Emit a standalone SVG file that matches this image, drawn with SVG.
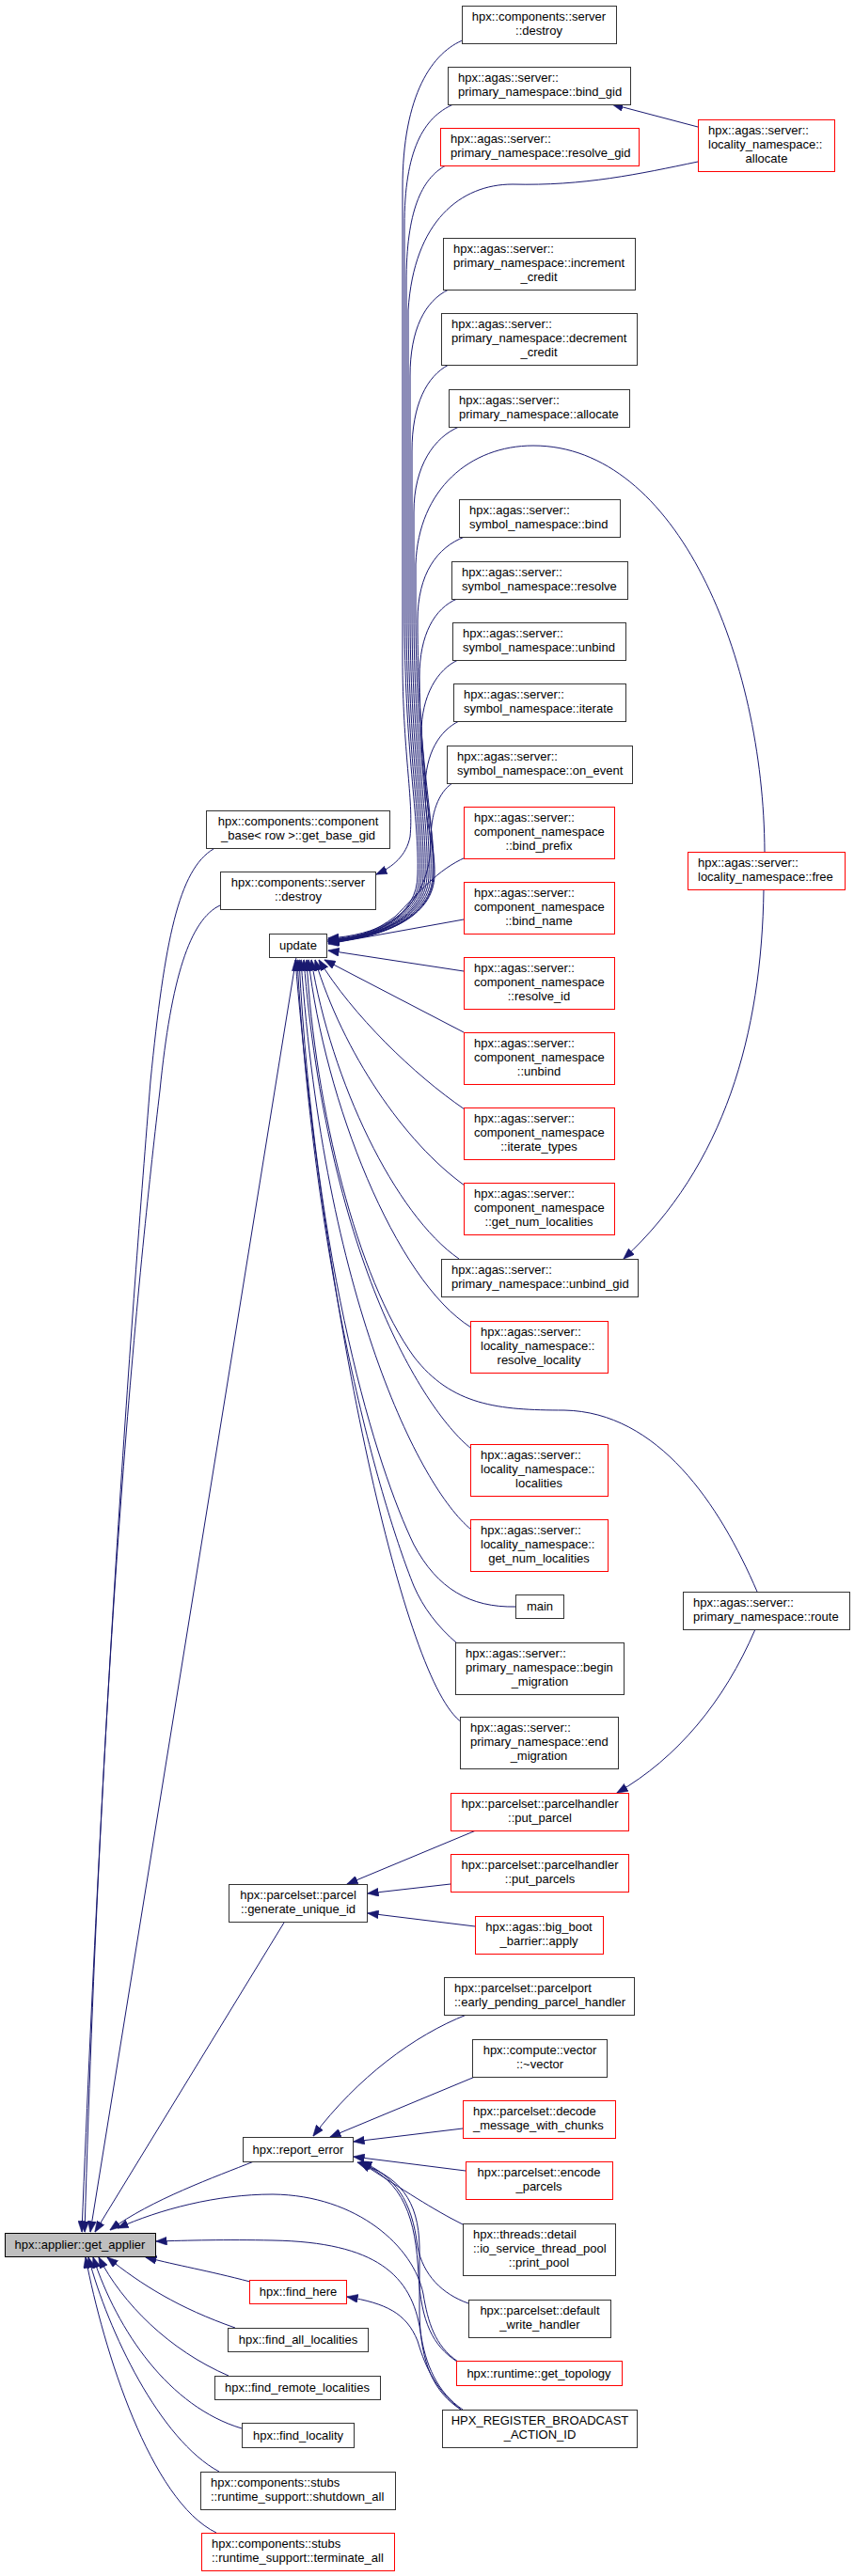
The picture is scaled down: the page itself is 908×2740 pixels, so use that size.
<svg xmlns="http://www.w3.org/2000/svg" width="908" height="2740" viewBox="0 0 908 2740">
<style>
.n rect{fill:#ffffff;stroke:#333333;stroke-width:1}
.n.r rect{stroke:#ff0000}
.n.g rect{fill:#bfbfbf;stroke:#000000}
text{font-family:"Liberation Sans",Arial,sans-serif;font-size:13px;fill:#000000}
.c{text-anchor:middle}
#edges path{fill:none;stroke:#191970;stroke-width:1;marker-end:url(#ah)}
</style>
<defs>
<marker id="ah" viewBox="0 0 12 9" refX="11.5" refY="4.5" markerWidth="12" markerHeight="9" markerUnits="userSpaceOnUse" orient="auto">
<path d="M0,0 L12,4.5 L0,9 z" fill="#191970" stroke="#191970" stroke-width="0.5"/>
</marker>
</defs>
<rect x="0" y="0" width="908" height="2740" fill="#ffffff"/>
<g id="edges">
<path d="M494 42 C460 55,428 100,428 200 L428 700 C428 800,440 850,436 890 C432 910,418 922,400 930"/>
<path d="M482 111 C450 125,430 160,430 240 L430 650 C430 800,446 870,444 930 C444 975,400 995,349 998"/>
<path d="M474 176 C448 190,432 225,432 300 L432 650 C432 800,448 870,446 930 C446 975,400 996,349 999"/>
<path d="M742 172 C680 185,620 198,545 196 C490 196,440 235,434 330 L434 650 C434 800,450 870,448 930 C448 975,402 996,349 1000"/>
<path d="M742 135 L651 111"/>
<path d="M477 308 C452 320,436 350,436 400 L436 650 C436 800,452 870,450 930 C450 976,402 997,349 1000"/>
<path d="M477 388 C454 400,438 430,438 480 L438 650 C438 800,454 870,452 930 C452 976,403 997,349 1000"/>
<path d="M488 454 C462 465,440 495,440 545 L440 650 C440 800,456 870,454 930 C454 976,403 997,349 1001"/>
<path d="M813 906 C812 700,720 474,567 474 C500 474,445 520,442 600 L442 650 C442 800,458 870,456 930 C456 976,404 997,349 1001"/>
<path d="M494 571 C465 582,444 610,444 660 C444 800,460 870,458 930 C458 976,405 998,349 1001"/>
<path d="M486 637 C462 647,446 675,446 720 C446 810,462 870,460 930 C460 976,405 998,349 1002"/>
<path d="M487 702 C465 712,448 740,448 780 C448 840,463 880,461 930 C461 976,406 998,349 1002"/>
<path d="M488 767 C468 777,452 800,452 840 C452 880,463 900,462 930 C462 976,406 998,349 1002"/>
<path d="M481 833 C466 843,458 865,458 895 C458 965,406 998,349 1003"/>
<path d="M495 912 C465 925,445 950,420 975 C400 990,380 998,349 1002"/>
<path d="M493 978 L349 1004"/>
<path d="M493 1033 L349 1011"/>
<path d="M493 1098 L345 1021"/>
<path d="M494 1180 C440 1143,375 1080,339 1021"/>
<path d="M494 1261 C430 1215,365 1120,335 1021"/>
<path d="M488 1339 C420 1292,352 1150,331 1021"/>
<path d="M501 1412 C420 1362,345 1170,328 1021"/>
<path d="M805 1693 C765 1600,700 1502,600 1500 C530 1500,480 1495,440 1443 C380 1360,335 1180,326 1021"/>
<path d="M501 1541 C446 1496,348 1330,323 1021"/>
<path d="M501 1627 C446 1582,345 1380,320 1021"/>
<path d="M548 1709 C500 1710,465 1690,440 1643 C400 1560,335 1350,318 1021"/>
<path d="M486 1748 C465 1730,450 1710,440 1687 C405 1600,335 1360,316 1021"/>
<path d="M491 1832 C430 1790,345 1400,314 1021"/>
<path d="M812 946 C810 1100,770 1240,663 1339"/>
<path d="M803 1733 C770 1810,720 1870,656 1907"/>
<path d="M506 1947 L369 2004"/>
<path d="M479 2004 L391 2014"/>
<path d="M505 2049 L391 2035"/>
<path d="M496 2143 C440 2165,380 2210,333 2272"/>
<path d="M505 2209 L351 2273"/>
<path d="M492 2264 L376 2278"/>
<path d="M495 2309 L376 2294"/>
<path d="M492 2366 C460 2350,430 2330,383 2300"/>
<path d="M498 2450 C470 2440,450 2420,444 2390 C438 2340,420 2315,384 2299"/>
<path d="M486 2512 C460 2495,448 2470,445 2420 C442 2360,430 2320,382 2300"/>
<path d="M490 2563 C462 2545,447 2515,446 2460 L446 2390 C445 2340,425 2315,380 2300"/>
<path d="M490 2563 C460 2540,450 2510,444 2490 C432 2460,410 2450,369 2443"/>
<path d="M492 2563 C465 2545,452 2515,447 2480 C438 2420,400 2385,290 2383 C240 2382,200 2383,166 2384"/>
<path d="M487 2512 C462 2495,455 2470,450 2440 C440 2390,380 2335,290 2334 C230 2334,170 2350,125 2370"/>
<path d="M270 2299 C230 2315,160 2340,117 2372"/>
<path d="M302 2045 L101 2374"/>
<path d="M315 1018 L96 2374"/>
<path d="M227 903 C190 925,175 1000,160 1150 C140 1400,110 1800,87 2374"/>
<path d="M234 963 C202 978,182 1040,170 1160 C150 1330,110 1700,90 2374"/>
<path d="M266 2427 C220 2415,190 2410,155 2401"/>
<path d="M250 2476 C190 2455,150 2430,114 2401"/>
<path d="M243 2527 C180 2500,130 2450,105 2401"/>
<path d="M257 2583 C180 2560,125 2480,99 2401"/>
<path d="M233 2629 C170 2595,115 2480,94 2401"/>
<path d="M230 2694 C160 2660,110 2500,91 2401"/>
</g>
<g id="n1" class="n"><rect x="491.5" y="6.5" width="164" height="40"/><text class="c" x="573" y="22">hpx::components::server</text><text class="c" x="573" y="37">::destroy</text></g>
<g id="n2" class="n"><rect x="476.5" y="71.5" width="194" height="40"/><text x="487" y="87">hpx::agas::server::</text><text x="487" y="102">primary_namespace::bind_gid</text></g>
<g id="n3" class="n r"><rect x="468.5" y="136.5" width="211" height="40"/><text x="479" y="152">hpx::agas::server::</text><text x="479" y="167">primary_namespace::resolve_gid</text></g>
<g id="n4" class="n"><rect x="471.5" y="253.5" width="204" height="55"/><text x="482" y="269">hpx::agas::server::</text><text x="482" y="284">primary_namespace::increment</text><text class="c" x="573" y="299">_credit</text></g>
<g id="n5" class="n"><rect x="469.5" y="333.5" width="208" height="55"/><text x="480" y="349">hpx::agas::server::</text><text x="480" y="364">primary_namespace::decrement</text><text class="c" x="573" y="379">_credit</text></g>
<g id="n6" class="n"><rect x="477.5" y="414.5" width="192" height="40"/><text x="488" y="430">hpx::agas::server::</text><text x="488" y="445">primary_namespace::allocate</text></g>
<g id="n7" class="n r"><rect x="742.5" y="127.5" width="145" height="55"/><text x="753" y="143">hpx::agas::server::</text><text x="753" y="158">locality_namespace::</text><text class="c" x="815" y="173">allocate</text></g>
<g id="n8" class="n"><rect x="488.5" y="531.5" width="171" height="40"/><text x="499" y="547">hpx::agas::server::</text><text x="499" y="562">symbol_namespace::bind</text></g>
<g id="n9" class="n"><rect x="480.5" y="597.5" width="187" height="40"/><text x="491" y="613">hpx::agas::server::</text><text x="491" y="628">symbol_namespace::resolve</text></g>
<g id="n10" class="n"><rect x="481.5" y="662.5" width="184" height="40"/><text x="492" y="678">hpx::agas::server::</text><text x="492" y="693">symbol_namespace::unbind</text></g>
<g id="n11" class="n"><rect x="482.5" y="727.5" width="183" height="40"/><text x="493" y="743">hpx::agas::server::</text><text x="493" y="758">symbol_namespace::iterate</text></g>
<g id="n12" class="n"><rect x="475.5" y="793.5" width="197" height="40"/><text x="486" y="809">hpx::agas::server::</text><text x="486" y="824">symbol_namespace::on_event</text></g>
<g id="n13" class="n r"><rect x="731.5" y="906.5" width="167" height="40"/><text x="742" y="922">hpx::agas::server::</text><text x="742" y="937">locality_namespace::free</text></g>
<g id="n14" class="n r"><rect x="493.5" y="858.5" width="160" height="55"/><text x="504" y="874">hpx::agas::server::</text><text x="504" y="889">component_namespace</text><text class="c" x="573" y="904">::bind_prefix</text></g>
<g id="n15" class="n r"><rect x="493.5" y="938.5" width="160" height="55"/><text x="504" y="954">hpx::agas::server::</text><text x="504" y="969">component_namespace</text><text class="c" x="573" y="984">::bind_name</text></g>
<g id="n16" class="n r"><rect x="493.5" y="1018.5" width="160" height="55"/><text x="504" y="1034">hpx::agas::server::</text><text x="504" y="1049">component_namespace</text><text class="c" x="573" y="1064">::resolve_id</text></g>
<g id="n17" class="n r"><rect x="493.5" y="1098.5" width="160" height="55"/><text x="504" y="1114">hpx::agas::server::</text><text x="504" y="1129">component_namespace</text><text class="c" x="573" y="1144">::unbind</text></g>
<g id="n18" class="n r"><rect x="493.5" y="1178.5" width="160" height="55"/><text x="504" y="1194">hpx::agas::server::</text><text x="504" y="1209">component_namespace</text><text class="c" x="573" y="1224">::iterate_types</text></g>
<g id="n19" class="n r"><rect x="493.5" y="1258.5" width="160" height="55"/><text x="504" y="1274">hpx::agas::server::</text><text x="504" y="1289">component_namespace</text><text class="c" x="573" y="1304">::get_num_localities</text></g>
<g id="n20" class="n"><rect x="469.5" y="1339.5" width="209" height="40"/><text x="480" y="1355">hpx::agas::server::</text><text x="480" y="1370">primary_namespace::unbind_gid</text></g>
<g id="n21" class="n r"><rect x="500.5" y="1405.5" width="146" height="55"/><text x="511" y="1421">hpx::agas::server::</text><text x="511" y="1436">locality_namespace::</text><text class="c" x="573" y="1451">resolve_locality</text></g>
<g id="n22" class="n r"><rect x="500.5" y="1536.5" width="146" height="55"/><text x="511" y="1552">hpx::agas::server::</text><text x="511" y="1567">locality_namespace::</text><text class="c" x="573" y="1582">localities</text></g>
<g id="n23" class="n r"><rect x="500.5" y="1616.5" width="146" height="55"/><text x="511" y="1632">hpx::agas::server::</text><text x="511" y="1647">locality_namespace::</text><text class="c" x="573" y="1662">get_num_localities</text></g>
<g id="n24" class="n"><rect x="548.5" y="1696.5" width="51" height="25"/><text class="c" x="574" y="1713">main</text></g>
<g id="n25" class="n"><rect x="484.5" y="1747.5" width="179" height="55"/><text x="495" y="1763">hpx::agas::server::</text><text x="495" y="1778">primary_namespace::begin</text><text class="c" x="574" y="1793">_migration</text></g>
<g id="n26" class="n"><rect x="489.5" y="1826.5" width="168" height="55"/><text x="500" y="1842">hpx::agas::server::</text><text x="500" y="1857">primary_namespace::end</text><text class="c" x="573" y="1872">_migration</text></g>
<g id="n27" class="n"><rect x="726.5" y="1693.5" width="177" height="40"/><text x="737" y="1709">hpx::agas::server::</text><text x="737" y="1724">primary_namespace::route</text></g>
<g id="n28" class="n r"><rect x="479.5" y="1907.5" width="189" height="40"/><text class="c" x="574" y="1923">hpx::parcelset::parcelhandler</text><text class="c" x="574" y="1938">::put_parcel</text></g>
<g id="n29" class="n r"><rect x="479.5" y="1972.5" width="189" height="40"/><text class="c" x="574" y="1988">hpx::parcelset::parcelhandler</text><text class="c" x="574" y="2003">::put_parcels</text></g>
<g id="n30" class="n r"><rect x="505.5" y="2038.5" width="136" height="40"/><text class="c" x="573" y="2054">hpx::agas::big_boot</text><text class="c" x="573" y="2069">_barrier::apply</text></g>
<g id="n31" class="n"><rect x="472.5" y="2103.5" width="202" height="40"/><text x="483" y="2119">hpx::parcelset::parcelport</text><text x="483" y="2134">::early_pending_parcel_handler</text></g>
<g id="n32" class="n"><rect x="502.5" y="2169.5" width="143" height="40"/><text class="c" x="574" y="2185">hpx::compute::vector</text><text class="c" x="574" y="2200">::~vector</text></g>
<g id="n33" class="n r"><rect x="492.5" y="2234.5" width="162" height="40"/><text x="503" y="2250">hpx::parcelset::decode</text><text x="503" y="2265">_message_with_chunks</text></g>
<g id="n34" class="n r"><rect x="495.5" y="2299.5" width="156" height="40"/><text class="c" x="573" y="2315">hpx::parcelset::encode</text><text class="c" x="573" y="2330">_parcels</text></g>
<g id="n35" class="n"><rect x="492.5" y="2365.5" width="162" height="55"/><text x="503" y="2381">hpx::threads::detail</text><text x="503" y="2396">::io_service_thread_pool</text><text class="c" x="573" y="2411">::print_pool</text></g>
<g id="n36" class="n"><rect x="498.5" y="2446.5" width="151" height="40"/><text class="c" x="574" y="2462">hpx::parcelset::default</text><text class="c" x="574" y="2477">_write_handler</text></g>
<g id="n37" class="n r"><rect x="485.5" y="2511.5" width="176" height="26"/><text class="c" x="573" y="2529">hpx::runtime::get_topology</text></g>
<g id="n38" class="n"><rect x="470.5" y="2563.5" width="207" height="40"/><text class="c" x="574" y="2579">HPX_REGISTER_BROADCAST</text><text class="c" x="574" y="2594">_ACTION_ID</text></g>
<g id="n39" class="n"><rect x="219.5" y="862.5" width="195" height="40"/><text class="c" x="317" y="878">hpx::components::component</text><text class="c" x="317" y="893">_base&lt; row &gt;::get_base_gid</text></g>
<g id="n40" class="n"><rect x="234.5" y="927.5" width="165" height="40"/><text class="c" x="317" y="943">hpx::components::server</text><text class="c" x="317" y="958">::destroy</text></g>
<g id="n41" class="n"><rect x="286.5" y="993.5" width="61" height="25"/><text class="c" x="317" y="1010">update</text></g>
<g id="n42" class="n"><rect x="243.5" y="2004.5" width="147" height="40"/><text class="c" x="317" y="2020">hpx::parcelset::parcel</text><text class="c" x="317" y="2035">::generate_unique_id</text></g>
<g id="n43" class="n"><rect x="258.5" y="2273.5" width="117" height="26"/><text class="c" x="317" y="2291">hpx::report_error</text></g>
<g id="n44" class="n r"><rect x="265.5" y="2425.5" width="103" height="25"/><text class="c" x="317" y="2442">hpx::find_here</text></g>
<g id="n45" class="n"><rect x="242.5" y="2476.5" width="149" height="25"/><text class="c" x="317" y="2493">hpx::find_all_localities</text></g>
<g id="n46" class="n"><rect x="228.5" y="2527.5" width="176" height="25"/><text class="c" x="316" y="2544">hpx::find_remote_localities</text></g>
<g id="n47" class="n"><rect x="257.5" y="2577.5" width="119" height="26"/><text class="c" x="317" y="2595">hpx::find_locality</text></g>
<g id="n48" class="n"><rect x="213.5" y="2629.5" width="207" height="40"/><text x="224" y="2645">hpx::components::stubs</text><text x="224" y="2660">::runtime_support::shutdown_all</text></g>
<g id="n49" class="n r"><rect x="214.5" y="2694.5" width="205" height="40"/><text x="225" y="2710">hpx::components::stubs</text><text x="225" y="2725">::runtime_support::terminate_all</text></g>
<g id="n50" class="n g"><rect x="5.5" y="2375.5" width="160" height="25"/><text class="c" x="85" y="2392">hpx::applier::get_applier</text></g>
</svg>
